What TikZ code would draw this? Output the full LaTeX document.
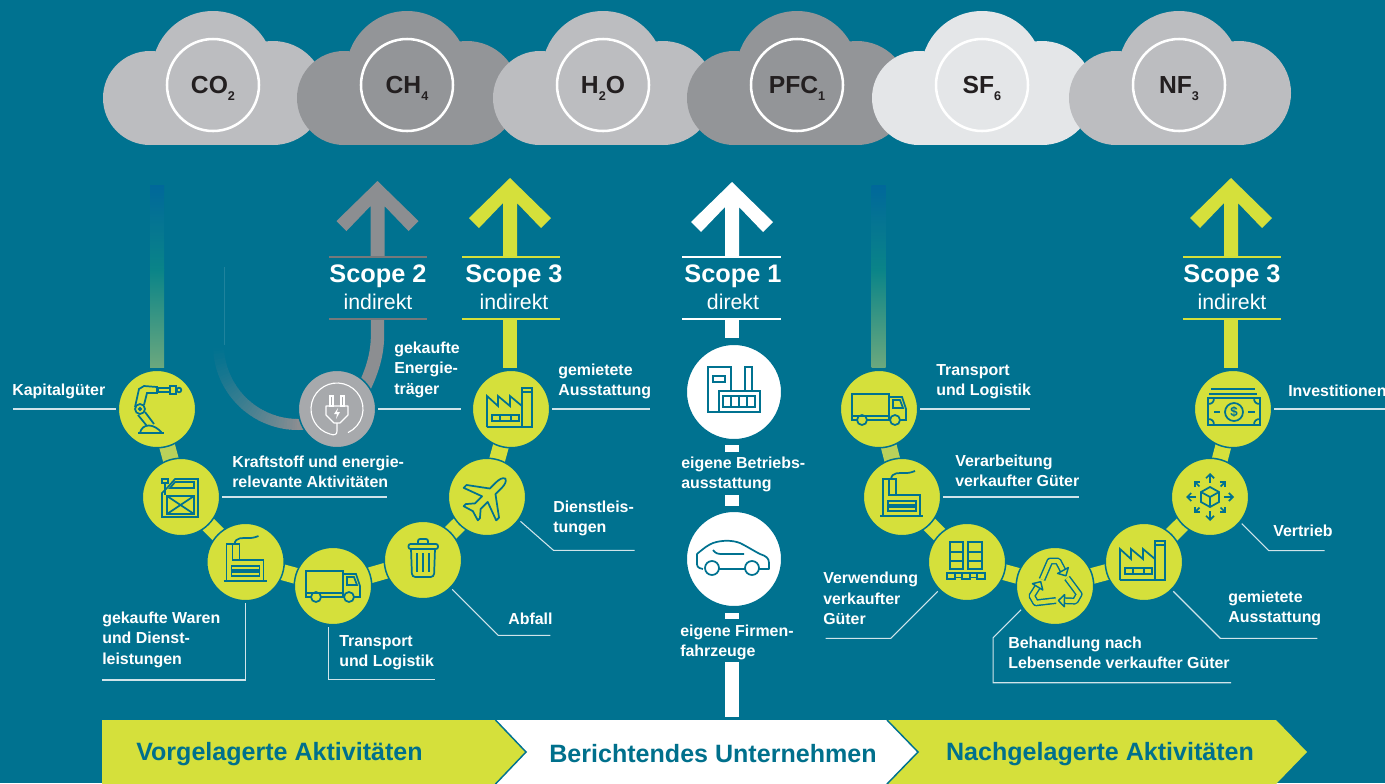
\documentclass[tikz,border=0pt]{standalone}
\usepackage{fontspec}
\setmainfont{Liberation Sans}
\usetikzlibrary{arrows.meta}
\definecolor{bgc}{HTML}{007290}
\definecolor{ylw}{HTML}{D5E03B}
\definecolor{ylwl}{HTML}{B9D15A}
\definecolor{cldl}{HTML}{BCBDC0}
\definecolor{cldd}{HTML}{939598}
\definecolor{cldp}{HTML}{E4E6E8}
\definecolor{ink}{HTML}{231F20}
\definecolor{sgrey}{HTML}{8C8E91}
\definecolor{pluggrey}{HTML}{A7A9AC}
\definecolor{leaderc}{HTML}{D0E4EA}
\definecolor{fadetop}{HTML}{00689A}
\definecolor{fademid}{HTML}{0A8488}
\definecolor{fadebot}{HTML}{6BA87E}
\definecolor{bandtxt}{HTML}{00708C}
\pgfdeclarelayer{back}
\pgfdeclarelayer{links}
\pgfsetlayers{back,links,main}
\tikzset{
  ycirc/.style={circle,fill=ylw,draw=bgc,line width=1.125pt,minimum size=58.1pt,inner sep=0pt,outer sep=2pt},
  gcirc/.style={ycirc,fill=pluggrey},
  wcirc/.style={circle,fill=white,draw=bgc,line width=2.25pt,minimum size=72.75pt,inner sep=0pt},
  gas/.style={circle,draw=white,line width=1.9pt,minimum size=69pt,inner sep=0pt,text=ink,font=\bfseries\fontsize{18.5}{20}\selectfont},
  link/.style={line width=12pt,ylw},
  linkl/.style={line width=12pt,ylwl},
  leader/.style={line width=.8pt,leaderc,line join=miter},
  lab/.style={text=white,font=\bfseries\fontsize{11.95}{15.4}\selectfont,align=left,anchor=west,inner sep=0pt,yshift=-1.2pt},
  stitle/.style={text=white,font=\bfseries\fontsize{19}{21}\selectfont,inner sep=0pt,yshift=-1.2pt},
  ssub/.style={text=white,font=\fontsize{16}{18}\selectfont,inner sep=0pt},
  bandt/.style={text=bandtxt,font=\bfseries\fontsize{18.8}{20}\selectfont,inner sep=0pt,yshift=-1.5pt},
  icon/.style={draw=bgc,line width=1.3pt,line join=miter},
  sline/.style={line width=1.6pt},
}
\newcommand\gascloud[2]{%
  \fill[#2] ({#1-63},98) circle[radius=47];
  \fill[#2] (#1,72) circle[radius=61];
  \fill[#2] ({#1+60},93) circle[radius=52];
  \fill[#2] ({#1-63},90) rectangle ({#1+60},145);
}
\newcommand\gsub[1]{\smash{\raisebox{-5pt}{\fontsize{9.5}{10}\selectfont #1}}}
\newcommand\scopearrow[3]{% x, tip y, colour
  \fill[#3] (#1,#2) -- ({#1+41},{#2+40}) -- ({#1+31},{#2+50}) -- ({#1+7},{#2+25}) -- ({#1+7},257)
    -- ({#1-7},257) -- ({#1-7},{#2+25}) -- ({#1-31},{#2+50}) -- ({#1-41},{#2+40}) -- cycle;
}
\newcommand\fadeshaft[1]{%
  \shade[top color=fadetop,bottom color=fademid] ({#1-7},185) rectangle ({#1+7},270);
  \shade[top color=fademid,bottom color=fadebot] ({#1-7},269.5) rectangle ({#1+7},367);
}
\newcommand\iconFactoryA{%
  \draw[icon] (-24,18) -- (-24,-13) -- (-13,-3) -- (-13,-13) -- (-1,-3) -- (-1,-13) -- (11,-3) -- (11,18);
  \draw[icon] (-24,18) -- (22,18);
  \draw[icon] (11,-21) rectangle (21,18);
  \draw[icon] (11,-17) -- (21,-17);
  \draw[icon] (-19,6) rectangle (8,12);
  \draw[icon] (-11,6) -- (-11,12) (0,6) -- (0,12);
}
\newcommand\iconFactoryB{%
  \draw[icon] (-19,19) -- (-19,-18) -- (-6,-18) -- (-6,-2) -- (18,-2) -- (18,19);
  \draw[icon] (-22,19) -- (21,19);
  \draw[icon] (-14,4) rectangle (14,8);
  \draw[icon] (-14,10) rectangle (14,14);
  \draw[icon] (-13,-18) -- (-13,-2) -- (-6,-2);
  \draw[icon] (-11,-18) .. controls (-10,-25) and (-3,-24) .. (4,-24) .. controls (8,-24) and (10,-25) .. (13,-26);
}
\newcommand\iconTruck{%
  \draw[icon] (-27,-15) rectangle (10,7);
  \draw[icon] (10,-12) -- (23,-12) -- (27,0) -- (27,11) -- (21,11);
  \draw[icon] (11,11) -- (-12,11);
  \draw[icon] (-22,11) -- (-27,11) -- (-27,7);
  \draw[icon] (10,7) -- (10,11);
  \draw[icon] (14,-9) -- (21,-9) -- (24,-1) -- (14,-1) -- cycle;
  \draw[icon] (-17,11) circle[radius=5];
  \draw[icon] (16,11) circle[radius=5];
}
\begin{document}
\begin{tikzpicture}[x=0.75pt,y=-0.75pt]
\useasboundingbox (0,0) rectangle (1385,783);
\begin{pgfonlayer}{back}
  \fill[bgc] (0,0) rectangle (1385,783);
\end{pgfonlayer}

% clouds
\gascloud{213}{cldl}
\gascloud{407}{cldd}
\gascloud{603}{cldl}
\gascloud{797}{cldd}
\gascloud{982}{cldp}
\gascloud{1179}{cldl}
\node[gas] (co2) at (213,85) {CO\gsub{2}};
\node[gas] (ch4) at (407,85) {CH\gsub{4}};
\node[gas] (h2o) at (603,85) {H\gsub{2}O};
\node[gas] (pfc) at (797,85) {PFC\gsub{1}};
\node[gas] (sf6) at (982,85) {SF\gsub{6}};
\node[gas] (nf3) at (1179,85) {NF\gsub{3}};

% scope arrows
\fadeshaft{157}
\fadeshaft{878.5}
\scopearrow{377.5}{181}{sgrey}
\scopearrow{510}{178}{ylw}
\scopearrow{732}{182}{white}
\scopearrow{1231}{178}{ylw}
\draw[sline,sgrey!85!black] (329,257) -- (427,257) (329,319) -- (427,319);
\draw[sline,ylw] (462,257) -- (560,257) (462,319) -- (560,319);
\draw[sline,white] (682,257) -- (781,257) (682,319) -- (781,319);
\draw[sline,ylw] (1183,257) -- (1281,257) (1183,319) -- (1281,319);
\node[stitle] (s2t) at (378,275) {Scope 2};
\node[ssub] (s2s) at (378,302) {indirekt};
\node[stitle] (s3t) at (514,275) {Scope 3};
\node[ssub] (s3s) at (514,302) {indirekt};
\node[stitle] (s1t) at (733,275) {Scope 1};
\node[ssub] (s1s) at (733,302) {direkt};
\node[stitle] (s4t) at (1232,275) {Scope 3};
\node[ssub] (s4s) at (1232,302) {indirekt};

% circles, upstream
\node[ycirc] (kap) at (157,409) {};
\node[ycirc] (can) at (181,497) {};
\node[ycirc] (war) at (245.5,562) {};
\node[ycirc] (tr1) at (333,586) {};
\node[ycirc] (trs) at (423,560) {};
\node[ycirc] (pln) at (487,497) {};
\node[ycirc] (fa1) at (511,409) {};
\node[gcirc] (plg) at (337,409) {};
% own
\node[wcirc] (own) at (734,392) {};
\node[wcirc] (car) at (734,559) {};
% downstream
\node[ycirc] (tr2) at (879,409) {};
\node[ycirc] (prc) at (902,497) {};
\node[ycirc] (pal) at (967,562) {};
\node[ycirc] (rec) at (1055,586) {};
\node[ycirc] (fa2) at (1144,562) {};
\node[ycirc] (dis) at (1210,497) {};
\node[ycirc] (inv) at (1233,409) {};

\begin{pgfonlayer}{links}
  \draw[linkl] (kap.center) -- (can.center);
  \draw[link] (can.center) -- (war.center);
  \draw[link] (war.center) -- (tr1.center);
  \draw[link] (tr1.center) -- (trs.center);
  \draw[link] (trs.center) -- (pln.center);
  \draw[link] (pln.center) -- (fa1.center);
  \draw[linkl] (tr2.center) -- (prc.center);
  \draw[link] (prc.center) -- (pal.center);
  \draw[link] (pal.center) -- (rec.center);
  \draw[link] (rec.center) -- (fa2.center);
  \draw[link] (fa2.center) -- (dis.center);
  \draw[link] (dis.center) -- (inv.center);
  % shafts
  \coordinate (a3) at (510,319);
  \draw[line width=10.5pt,ylw] (a3) -- (510,367.5);
  \coordinate (a4) at (1231,319);
  \draw[line width=10.5pt,ylw] (a4) -- (1231,367.5);
  \coordinate (a2) at (377.5,319);
  \draw[line width=10pt,sgrey] (a2) -- (377.5,335) .. controls (377.5,355) and (372,372) .. (362,392);
  % scope 1 dashes
  \coordinate (a1) at (732,319);
  \draw[line width=10.5pt,white] (a1) -- (732,338);
  \draw[line width=10.5pt,white] (732,445) -- (732,452);
  \draw[line width=10.5pt,white] (732,495) -- (732,506);
  \draw[line width=10.5pt,white] (732,613) -- (732,619);
  \draw[line width=10.5pt,white] (732,662) -- (732,717);
  % faded arc into the plug
  \draw[line width=.4pt,color=bgc!88!white] (224,267) -- (224,345);
  \foreach \a in {180,178,...,92} {
    \pgfmathsetmacro\b{\a-2.5}
    \pgfmathtruncatemacro\p{100*pow((181-\a)/91,1.25)}
    \draw[line width=8.25pt,color=sgrey!\p!bgc] ({298+79.5*cos(\a)},{345+79.5*sin(\a)}) -- ({298+79.5*cos(\b)},{345+79.5*sin(\b)});
  }
  \draw[line width=8.25pt,color=sgrey] (297,424.5) -- (310,424.5);
\end{pgfonlayer}

% leaders
\draw[leader] (kap.west) -- ++(-103,0);
\draw[leader] (can.east) -- ++(165,0);
\draw[leader] (war.south) -- (245.5,680) -- (102,680);
\draw[leader] (tr1.264) -- ++(0,52) -- ++(106,0);
\draw[leader] (trs.-45) -- ++(46,46) -- ++(52,0);
\draw[leader] (pln.-36) -- ++(33,29) -- ++(81,0);
\draw[leader] (plg.east) -- ++(83,0);
\draw[leader] (fa1.east) -- ++(98,0);
\draw[leader] (tr2.east) -- ++(110,0);
\draw[leader] (prc.east) -- ++(136,0);
\draw[leader] (pal.225) -- ++(-47,47) -- ++(-65,0);
\draw[leader] (rec.215) -- ++(-28,28) -- ++(0,45) -- ++(238,0);
\draw[leader] (fa2.-45) -- ++(47,47) -- ++(97,0);
\draw[leader] (dis.-40) -- ++(27,27) -- ++(56,0);
\draw[leader] (inv.east) -- ++(112,0);

% labels
\node[lab] (l01) at (12,390) {Kapitalgüter};
\node[lab] (l02) at (232,470) {Kraftstoff und energie-\\relevante Aktivitäten};
\node[lab] (l03) at (102,638) {gekaufte Waren\\und Dienst-\\leistungen};
\node[lab] (l04) at (339,651) {Transport\\und Logistik};
\node[lab] (l05) at (508,617) {Abfall};
\node[lab] (l06) at (553,517) {Dienstleis-\\tungen};
\node[lab] (l07) at (558,380) {gemietete\\Ausstattung};
\node[lab] (l08) at (394,368) {gekaufte\\Energie-\\träger};
\node[lab] (l09) at (681,473) {eigene Betriebs-\\ausstattung};
\node[lab] (l10) at (680,641) {eigene Firmen-\\fahrzeuge};
\node[lab] (l11) at (936,380) {Transport\\und Logistik};
\node[lab] (l12) at (955,469) {Verarbeitung\\verkaufter Güter};
\node[lab] (l13) at (823,597) {Verwendung\\verkaufter\\Güter};
\node[lab] (l14) at (1008,651) {Behandlung nach\\Lebensende verkaufter Güter};
\node[lab] (l15) at (1228,607) {gemietete\\Ausstattung};
\node[lab] (l16) at (1273,529) {Vertrieb};
\node[lab] (l17) at (1288,389) {Investitionen};

% icons
% robot
\begin{scope}[shift={(kap.center)}]
  \draw[icon] (-19,24) -- (7,24);
  \draw[icon] (-17,24) .. controls (-15,14) and (-3,14) .. (5,24);
  \draw[icon] (-17,0) circle[radius=5];
  \draw[icon] (-17,0) circle[radius=1.2];
  \draw[icon] (-19,6) -- (-10,17) (-12,3) -- (-3,15);
  \draw[icon] (-22,-2) -- (-18,-20) -- (-13,-23) -- (0,-22) -- (0,-16) -- (-10,-16) -- (-13,-4);
  \draw[icon] (1,-21) rectangle (13,-17);
  \draw[icon] (13,-23) rectangle (19,-15);
  \draw[icon] (22,-19) circle[radius=2.3];
\end{scope}
% canister
\begin{scope}[shift={(can.center)}]
  \draw[icon] (-19,20) -- (-19,-4) -- (-13,-10) -- (-6,-18) -- (17,-18) -- (17,20) -- cycle;
  \draw[icon] (-6,-15) -- (13,-15) -- (13,-9) -- (-11,-9) -- cycle;
  \draw[icon] (-19,-18) rectangle (-13,-14);
  \draw[icon] (-16,-14) -- (-16,-2);
  \draw[icon] (-14,-1) rectangle (13,17);
  \draw[icon] (-14,-1) -- (13,17) (-14,17) -- (13,-1);
\end{scope}
\begin{scope}[shift={(war.center)}]\iconFactoryB\end{scope}
\begin{scope}[shift={(tr1.center)}]\iconTruck\end{scope}
% trash
\begin{scope}[shift={(trs.center)}]
  \draw[icon,rounded corners=1.5pt] (-14.5,-16) rectangle (15,-11);
  \draw[icon,rounded corners=1.5pt] (-5,-16) -- (-5,-21) -- (5,-21) -- (5,-16);
  \draw[icon,rounded corners=2.5pt] (-12,-11) -- (-11,17) -- (11,17) -- (12,-11);
  \draw[icon] (-6,-7) -- (-6,12) (0,-7) -- (0,12) (6,-7) -- (6,12);
\end{scope}
% plane
\begin{scope}[shift={(pln.center)},rotate=45]
  \draw[icon,line join=round] (26,0) .. controls (25,-3) and (21,-4) .. (16,-4) -- (8,-4) -- (-6,-23) -- (-10,-23) -- (-3,-4) -- (-13,-4)
    -- (-20,-10) -- (-23,-10) -- (-20,0) -- (-23,10) -- (-20,10) -- (-13,4) -- (-3,4) -- (-10,23) -- (-6,23) -- (8,4) -- (16,4) .. controls (21,4) and (25,3) .. (26,0) -- cycle;
\end{scope}
\begin{scope}[shift={(fa1.center)}]\iconFactoryA\end{scope}
% plug
\begin{scope}[shift={(plg.center)}]
  \draw[white,line width=.85pt] ({26*cos(105)},{26*sin(105)}) arc[start angle=105,delta angle=320,radius=26];
  \draw[white,line width=.85pt] (-7,-13) rectangle (-4,-3);
  \draw[white,line width=.85pt] (4,-13) rectangle (7,-3);
  \draw[white,line width=.85pt,line join=round] (-11,-3) -- (11,-3) -- (11,6) -- (3,14) -- (-3,14) -- (-11,6) -- cycle;
  \fill[white] (1,-1) -- (-3,5) -- (0,5) -- (-1,10) -- (3,3) -- (0,3) -- cycle;
  \draw[white,line width=.85pt] (0,14) -- (0,22) .. controls (0,26) and (-3,26.5) .. (-6.7,25.1);
\end{scope}
% own building
\begin{scope}[shift={(own.center)}]
  \draw[icon] (-15,20) -- (-26,20) -- (-26,-25) -- (-3,-25) -- (-3,-1);
  \draw[icon] (-15,20) -- (-15,-1) -- (26,-1) -- (26,20) -- (-15,20);
  \draw[icon] (-21,-16) rectangle (-9,-10);
  \draw[icon] (11,-1) -- (11,-25) -- (18,-25) -- (18,-1);
  \draw[icon] (-11,4) rectangle (21,15);
  \draw[icon] (-3,4) -- (-3,15) (5,4) -- (5,15) (13,4) -- (13,15);
\end{scope}
% car
\begin{scope}[shift={(car.center)}]
  \draw[icon,line join=round] (-31,10) .. controls (-37,9) and (-37,7) .. (-37,3) -- (-37,-5) .. controls (-30,-11) and (-26,-14) .. (-21,-16) .. controls (-12,-19) and (-2,-19) .. (6,-16) .. controls (14,-12) and (20,-8) .. (26,-5) .. controls (32,-3) and (35,-1) .. (35,4) -- (35,10) -- (25,10);
  \draw[icon] (-15,10) -- (11,10);
  \draw[icon] (-22,9) circle[radius=7];
  \draw[icon] (18,9) circle[radius=7];
  \draw[icon] (-21,-9) .. controls (-18,-5) and (-16,-5) .. (-10,-5) -- (10,-5);
\end{scope}
\begin{scope}[shift={(tr2.center)}]\iconTruck\end{scope}
\begin{scope}[shift={(prc.center)}]\iconFactoryB\end{scope}
% pallets
\begin{scope}[shift={(pal.center)}]
  \draw[icon] (-17,-20) rectangle (-4,7);
  \draw[icon] (1,-20) rectangle (15,7);
  \draw[icon] (-17,-10) -- (-4,-10) (-17,-1) -- (-4,-1);
  \draw[icon] (1,-10) -- (15,-10) (1,-1) -- (15,-1);
  \draw[icon] (-20,11) -- (18,11);
  \draw[icon] (-20,11) rectangle (-12,17);
  \draw[icon] (-5,11) rectangle (3,17);
  \draw[icon] (10,11) rectangle (18,17);
  \draw[icon] (-12,15.5) -- (-5,15.5) (3,15.5) -- (10,15.5);
\end{scope}
% recycle
\begin{scope}[shift={(rec.center)}]
  \foreach \r in {0,-120,-240} {
    \begin{scope}[rotate=\r]
      \draw[bgc,line width=1.1pt,double=ylw,double distance=3pt,line join=round] (-13,-6.5) -- (-5,-25) -- (3,-25) -- (8,-15.5);
      \filldraw[fill=ylw,draw=bgc,line width=1.1pt,line join=round] (13.3,-18.4) -- (2.7,-12.6) -- (10.9,-10.2) -- cycle;
    \end{scope}
  }
\end{scope}
\begin{scope}[shift={(fa2.center)}]\iconFactoryA\end{scope}
% distribution
\begin{scope}[shift={(dis.center)}]
  \draw[icon] (0,-10) -- (9,-5) -- (9,5) -- (0,10) -- (-9,5) -- (-9,-5) -- cycle;
  \draw[icon] (-9,-5) -- (0,0) -- (9,-5) (0,0) -- (0,10);
  \foreach \g in {0,90,180,270}
    \draw[icon,-{Straight Barb[length=3pt,width=6pt]}] ({14*cos(\g)},{14*sin(\g)}) -- ({24*cos(\g)},{24*sin(\g)});
  \foreach \g in {45,135,225,315}
    \draw[icon,-{Straight Barb[length=2.5pt,width=5pt]}] ({15*cos(\g)},{15*sin(\g)}) -- ({22*cos(\g)},{22*sin(\g)});
\end{scope}
% money
\begin{scope}[shift={(inv.center)}]
  \draw[icon] (-22,-20) -- (22,-20);
  \draw[icon] (-24,-15) -- (24,-15);
  \draw[icon] (-25,-11) rectangle (27,16);
  \draw[icon] (1,3) circle[radius=9];
  \node[text=bgc,font=\bfseries\fontsize{10}{10}\selectfont,inner sep=0pt] (dollar) at (1,3) {\$};
  \draw[icon] (-19,3) -- (-13,3) (15,3) -- (22,3);
  \draw[icon] (-25,-5) .. controls (-21,-5) and (-19,-7) .. (-19,-11);
  \draw[icon] (27,-5) .. controls (23,-5) and (21,-7) .. (21,-11);
  \draw[icon] (-25,10) .. controls (-21,10) and (-19,12) .. (-19,16);
  \draw[icon] (27,10) .. controls (23,10) and (21,12) .. (21,16);
\end{scope}

% bottom band
\fill[ylw] (102,720) -- (495.5,720) -- (526,752) -- (495.5,784) -- (102,784) -- cycle;
\fill[white] (495.5,720) -- (887,720) -- (918,752) -- (887,784) -- (495.5,784) -- (526,752) -- cycle;
\fill[ylw] (887,720) -- (1276,720) -- (1307,752) -- (1276,784) -- (887,784) -- (918,752) -- cycle;
\draw[bgc,line width=1.1pt] (495.5,720) -- (526,752) -- (495.5,784);
\draw[bgc,line width=1.1pt] (887,720) -- (918,752) -- (887,784);
\node[bandt] (b1) at (279.5,752) {Vorgelagerte Aktivitäten};
\node[bandt] (b2) at (713,752) {Berichtendes Unternehmen};
\node[bandt] (b3) at (1100,752) {Nachgelagerte Aktivitäten};
\end{tikzpicture}
\end{document}
